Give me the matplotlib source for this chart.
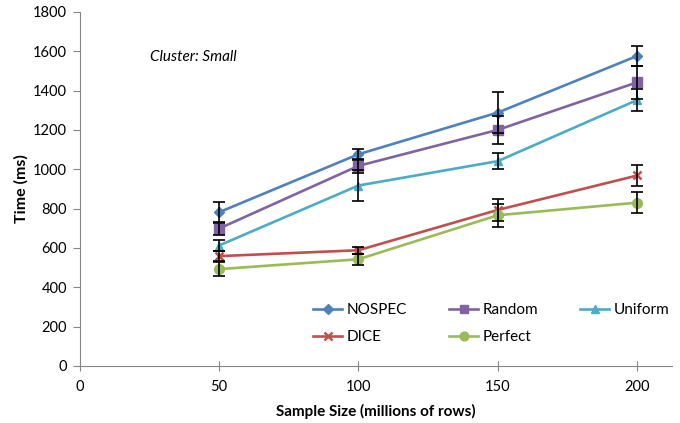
import matplotlib
matplotlib.use("Agg")
import matplotlib.pyplot as plt

# data
sizes = [50, 100, 150, 200]
series_names = ["NOSPEC", "Random", "Uniform", "DICE", "Perfect"]
nospec = [781, 1076, 1288, 1576]
random_ = [698, 1017, 1200, 1442]
uniform = [612, 917, 1041, 1352]
dice = [558, 588, 793, 968]
perfect = [492, 542, 766, 830]
nospec_err = [50, 27, 103, 52]
random_err = [30, 34, 71, 85]
uniform_err = [30, 78, 39, 56]
dice_err = [25, 19, 57, 51]
perfect_err = [36, 29, 59, 53]
y_ticks = [0, 200, 400, 600, 800, 1000, 1200, 1400, 1600, 1800]
x_ticks = [0, 50, 100, 150, 200]

plt.rcParams["font.family"] = ["Lato", "DejaVu Sans"]

styles = {
    "NOSPEC": ("#4F81BD", "D", 5.5),
    "Random": ("#8064A2", "s", 6.5),
    "Uniform": ("#4BACC6", "^", 6),
    "DICE": ("#C0504D", "x", 6),
    "Perfect": ("#9BBB59", "o", 7),
}
values = [nospec, random_, uniform, dice, perfect]
errors = [nospec_err, random_err, uniform_err, dice_err, perfect_err]

fig = plt.figure(figsize=(6.8, 4.23), dpi=100)
ax = fig.add_axes([0.117, 0.135, 0.871, 0.837])

handles = {}
for name, ys, err in zip(series_names, values, errors):
    color, marker, ms = styles[name]
    ax.errorbar(sizes, ys, yerr=err, fmt="none", ecolor="black",
                elinewidth=1.2, capsize=4, capthick=1.2, zorder=3)
    (h,) = ax.plot(sizes, ys, color=color, marker=marker, markersize=ms,
                   linewidth=1.9, markeredgewidth=1.8 if marker == "x" else 1,
                   markeredgecolor=color, zorder=2)
    handles[name] = h

ax.set_xlim(0, 212.4)
ax.set_ylim(0, 1800)
ax.set_xticks(x_ticks)
ax.set_yticks(y_ticks)
ax.tick_params(axis="both", labelsize=10.5, colors="#868686", labelcolor="black")
ax.tick_params(axis="x", direction="inout", length=7, pad=7)
ax.tick_params(axis="y", direction="out", length=5, pad=4)
for side in ("top", "right"):
    ax.spines[side].set_visible(False)
for side in ("left", "bottom"):
    ax.spines[side].set_color("#868686")

ax.set_ylabel("Time (ms)", fontsize=11.5, fontweight="bold", labelpad=3)
ax.set_xlabel("Sample Size (millions of rows)", fontsize=11,
              fontweight="bold", labelpad=7)
ax.text(0.119, 0.873, "Cluster: Small", transform=ax.transAxes,
        fontsize=11, style="italic", va="center")

order = ["NOSPEC", "DICE", "Random", "Perfect", "Uniform"]
ax.legend([handles[n] for n in order], order, ncol=3, frameon=False,
          loc="upper left", bbox_to_anchor=(313 / 680, 1 - 303 / 423),
          bbox_transform=fig.transFigure, borderaxespad=0, borderpad=0,
          fontsize=11, handlelength=1.9, columnspacing=2.75,
          handletextpad=0.3, labelspacing=0.85, markerscale=0.9)

fig.savefig("out.png", dpi=100)
